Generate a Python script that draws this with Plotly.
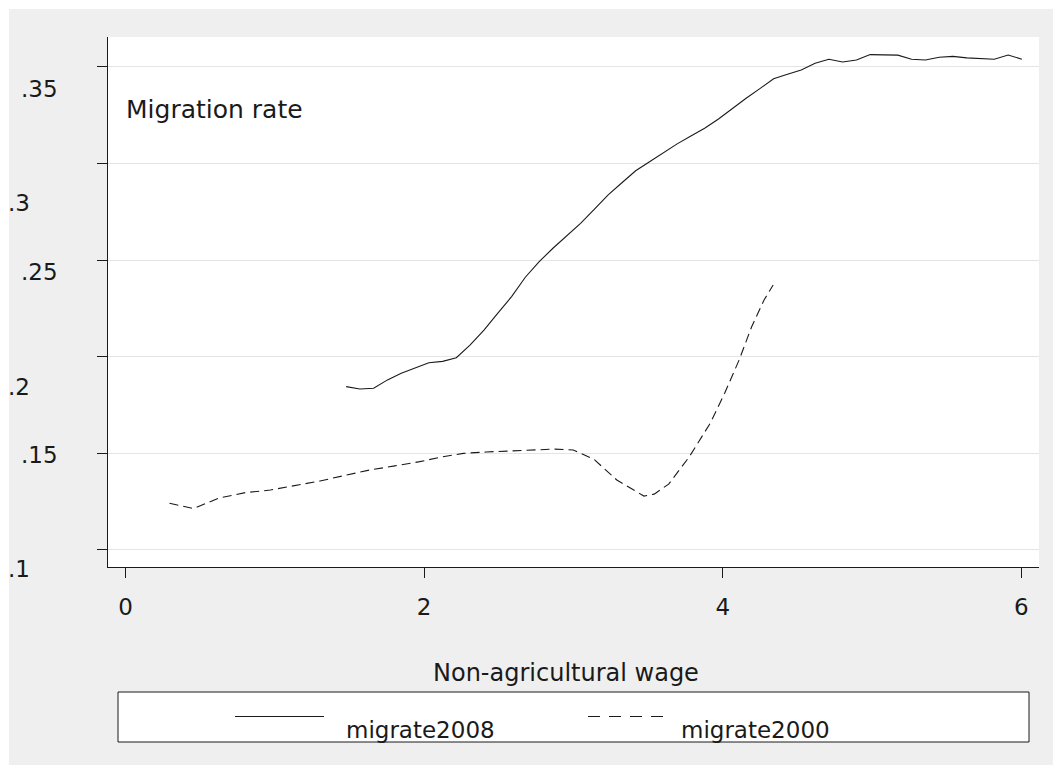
import plotly.graph_objects as go

# Smoothed migration rate against non-agricultural wage, two survey years
wage_2008 = [1.478, 1.570, 1.662, 1.755, 1.847, 1.939, 2.032, 2.124, 2.216, 2.309,
             2.401, 2.494, 2.586, 2.678, 2.771, 2.863, 2.956, 3.048, 3.141, 3.233,
             3.325, 3.417, 3.510, 3.602, 3.695, 3.787, 3.879, 3.972, 4.064, 4.157,
             4.249, 4.341, 4.434, 4.526, 4.619, 4.711, 4.803, 4.896, 4.988, 5.080,
             5.173, 5.265, 5.358, 5.450, 5.542, 5.635, 5.727, 5.819, 5.912, 6.004]
migrate2008 = [0.1845, 0.1833, 0.1837, 0.1880, 0.1914, 0.1940, 0.1969, 0.1976, 0.1995, 0.2061,
               0.2138, 0.2225, 0.2311, 0.2411, 0.2492, 0.2561, 0.2626, 0.2690, 0.2763, 0.2837,
               0.2900, 0.2962, 0.3009, 0.3056, 0.3101, 0.3142, 0.3182, 0.3230, 0.3285, 0.3337,
               0.3387, 0.3438, 0.3461, 0.3483, 0.3518, 0.3539, 0.3525, 0.3535, 0.3563, 0.3563,
               0.3560, 0.3539, 0.3535, 0.3549, 0.3554, 0.3546, 0.3542, 0.3539, 0.3561, 0.3539]

wage_2000 = [0.295, 0.456, 0.623, 0.803, 0.970, 1.137, 1.303, 1.470, 1.637, 1.804,
             1.971, 2.110, 2.263, 2.415, 2.582, 2.749, 2.874, 2.999, 3.138, 3.291,
             3.472, 3.541, 3.638, 3.777, 3.916, 4.013, 4.110, 4.194, 4.277, 4.338]
migrate2000 = [0.1242, 0.1214, 0.1268, 0.1297, 0.1310, 0.1333, 0.1357, 0.1386, 0.1414, 0.1435,
               0.1457, 0.1480, 0.1500, 0.1507, 0.1512, 0.1519, 0.1522, 0.1517, 0.1469, 0.1362,
               0.1279, 0.1289, 0.1341, 0.1483, 0.1655, 0.1811, 0.1983, 0.2155, 0.2293, 0.2371]

x_ticks = [0, 2, 4, 6]
y_ticks = [0.35, 0.3, 0.25, 0.2, 0.15, 0.1]
y_tick_text = [".35", ".3", ".25", ".2", ".15", ".1"]
series_names = ["migrate2008", "migrate2000"]

W, H = 1053, 773
ML, MR, MT, MB = 108, 14, 37, 206
PW, PH = W - ML - MR, H - MT - MB
FONT = "DejaVu Sans"
INK = "#1a1a1a"
BG = "#efefef"


def px(xp):
    return (xp - ML) / PW


def py(yp):
    return (H - MB - yp) / PH


fig = go.Figure()
fig.add_trace(go.Scatter(x=wage_2008, y=migrate2008, mode="lines", name=series_names[0],
                         line=dict(color=INK, width=1.1)))
fig.add_trace(go.Scatter(x=wage_2000, y=migrate2000, mode="lines", name=series_names[1],
                         line=dict(color=INK, width=1.1, dash="9px,5px")))

shapes = []
# white frame around the grey graph region
shapes.append(dict(type="rect", xref="paper", yref="paper", x0=px(0), x1=px(9), y0=py(H), y1=py(0),
                   fillcolor="white", line=dict(width=0), layer="above"))
shapes.append(dict(type="rect", xref="paper", yref="paper", x0=px(0), x1=px(W), y0=py(9), y1=py(0),
                   fillcolor="white", line=dict(width=0), layer="above"))
shapes.append(dict(type="rect", xref="paper", yref="paper", x0=px(0), x1=px(W), y0=py(H), y1=py(765),
                   fillcolor="white", line=dict(width=0), layer="above"))
# legend box
shapes.append(dict(type="rect", xref="paper", yref="paper", x0=px(118), x1=px(1029), y0=py(742), y1=py(692),
                   fillcolor="white", line=dict(color=INK, width=1)))
shapes.append(dict(type="line", xref="paper", yref="paper", x0=px(235), x1=px(324), y0=py(716.5), y1=py(716.5),
                   line=dict(color=INK, width=1.1)))
shapes.append(dict(type="line", xref="paper", yref="paper", x0=px(588), x1=px(668), y0=py(716.5), y1=py(716.5),
                   line=dict(color=INK, width=1.1, dash="12px,9px")))

annotations = []
# y tick labels, staggered in two columns
label_pos = [(60, 89), (32, 203), (60, 272), (32, 387), (60, 455), (32, 569)]
for txt, (xr, yc) in zip(y_tick_text, label_pos):
    annotations.append(dict(text=txt, xref="paper", yref="paper", x=px(xr), y=py(yc),
                            xanchor="right", yanchor="middle", showarrow=False,
                            font=dict(family=FONT, size=23, color=INK)))
annotations.append(dict(text="Migration rate", xref="paper", yref="paper", x=px(124), y=py(110),
                        xanchor="left", yanchor="middle", showarrow=False,
                        font=dict(family=FONT, size=25, color=INK)))
annotations.append(dict(text="Non-agricultural wage", xref="paper", yref="paper", x=px(566), y=py(673),
                        xanchor="center", yanchor="middle", showarrow=False,
                        font=dict(family=FONT, size=24, color=INK)))
annotations.append(dict(text=series_names[0], xref="paper", yref="paper", x=px(344), y=py(730),
                        xanchor="left", yanchor="middle", showarrow=False,
                        font=dict(family=FONT, size=23, color=INK)))
annotations.append(dict(text=series_names[1], xref="paper", yref="paper", x=px(679), y=py(730),
                        xanchor="left", yanchor="middle", showarrow=False,
                        font=dict(family=FONT, size=23, color=INK)))

fig.update_layout(
    width=W, height=H,
    margin=dict(l=ML, r=MR, t=MT, b=MB),
    paper_bgcolor=BG, plot_bgcolor="white",
    showlegend=False,
    shapes=shapes, annotations=annotations,
    font=dict(family=FONT, size=23, color=INK),
)
fig.update_xaxes(
    range=[-0.1172, 6.1186], tickvals=x_ticks, ticktext=[str(v) for v in x_ticks],
    showgrid=False, zeroline=False, showline=True, linecolor=INK, linewidth=1,
    ticks="outside", ticklen=10, tickcolor=INK, tickwidth=1, ticklabelstandoff=9,
    tickfont=dict(family=FONT, size=23, color=INK),
)
fig.update_yaxes(
    range=[0.0912, 0.3654], tickvals=y_ticks, showticklabels=False,
    showgrid=True, gridcolor="#e4e4e4", gridwidth=1, zeroline=False,
    showline=True, linecolor=INK, linewidth=1,
    ticks="outside", ticklen=10, tickcolor=INK, tickwidth=1,
)

fig.write_html("out.html")
